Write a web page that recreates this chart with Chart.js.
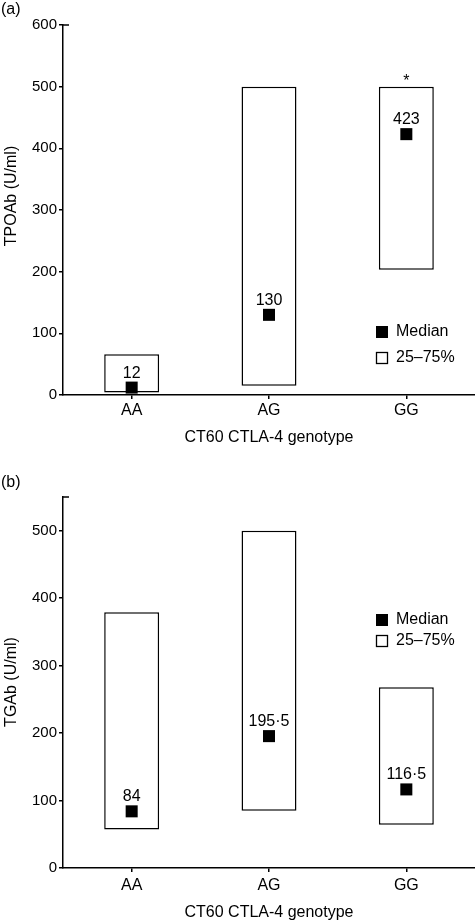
<!DOCTYPE html>
<html>
<head>
<meta charset="utf-8">
<script src="https://cdn.jsdelivr.net/npm/chart.js@4"></script>
<style>
  html, body { margin: 0; padding: 0; background: #fff; overflow: hidden; }
  canvas { display: block; }
</style>
</head>
<body>
<canvas id="tpoChart" width="475" height="450"></canvas>
<canvas id="tgaChart" width="475" height="472"></canvas>
<script>
// ---- Data ----
const genotypes = ["AA", "AG", "GG"];

// (a) TPOAb
const tpoLow    = [4, 15, 203];
const tpoHigh   = [66, 500, 500];
const tpoMedian = [12, 130, 423];
const tpoSignif = ["", "", "*"];
const tpoTicks  = [0, 100, 200, 300, 400, 500, 600];

// (b) TGAb
const tgaLow    = [57, 85, 64];
const tgaHigh   = [379, 500, 268];
const tgaMedian = [84, 195.5, 116.5];
const tgaSignif = ["", "", ""];
const tgaTicks  = [0, 100, 200, 300, 400, 500];

const FONT = "Liberation Sans";
const fmt = v => String(v).replace(".", "\u00b7");

// ---- Annotations: panel letter, y title, median labels, asterisk, legend, axis stub ----
const annotations = {
  id: "annotations",
  afterDraw(chart, args, opts) {
    const ctx = chart.ctx;
    const area = chart.chartArea;
    const y = chart.scales.y;
    ctx.save();
    ctx.fillStyle = "#000";
    ctx.strokeStyle = "#000";
    ctx.font = "16px '" + FONT + "'";

    // panel letter
    ctx.textAlign = "left";
    ctx.textBaseline = "middle";
    ctx.fillText(opts.letter, 1, opts.letterY);

    // y axis title
    ctx.save();
    ctx.translate(12, opts.yTitleY);
    ctx.rotate(-Math.PI / 2);
    ctx.textAlign = "center";
    ctx.fillText(opts.yTitle, 0, 0);
    ctx.restore();

    // median value labels
    const medMeta = chart.getDatasetMeta(0);
    ctx.textAlign = "center";
    ctx.textBaseline = "alphabetic";
    medMeta.data.forEach((pt, i) => {
      ctx.fillText(fmt(opts.medians[i]), pt.x, pt.y - 10);
    });

    // significance marks above boxes
    const boxMeta = chart.getDatasetMeta(1);
    boxMeta.data.forEach((bar, i) => {
      if (opts.signif[i]) ctx.fillText(opts.signif[i], bar.x, y.getPixelForValue(opts.highs[i]) - 1);
    });

    // short stub at top of y axis
    ctx.lineWidth = 1.5;
    ctx.beginPath();
    ctx.moveTo(area.left, area.top);
    ctx.lineTo(area.left + 6, area.top);
    ctx.stroke();

    // legend
    const lx = 376, s = 12;
    ctx.textAlign = "left";
    ctx.textBaseline = "middle";
    ctx.fillRect(lx, opts.legendY[0] - s / 2, s, s);
    ctx.fillText("Median", lx + 20, opts.legendY[0]);
    ctx.lineWidth = 1.3;
    ctx.strokeRect(lx + 0.5, opts.legendY[1] - s / 2 + 0.5, s - 1, s - 1);
    ctx.fillText("25\u201375%", lx + 20, opts.legendY[1]);
    ctx.restore();
  }
};

function buildPanel(canvasId, p) {
  new Chart(document.getElementById(canvasId), {
    data: {
      labels: genotypes,
      datasets: [
        {
          type: "line",
          label: "Median",
          data: p.medians,
          showLine: false,
          pointStyle: "rect",
          pointRadius: 8.5,
          pointBackgroundColor: "#000",
          pointBorderColor: "#000",
          pointBorderWidth: 0,
          clip: false,
          order: 0,
        },
        {
          type: "bar",
          label: "25\u201375%",
          data: p.lows.map((lo, i) => [lo, p.highs[i]]),
          backgroundColor: "#fff",
          borderColor: "#000",
          borderWidth: 1.5,
          borderSkipped: false,
          barPercentage: 0.4,
          categoryPercentage: 1,
          order: 1,
        }
      ]
    },
    options: {
      responsive: false,
      animation: false,
      layout: { autoPadding: false, padding: { top: p.padTop, right: 0, left: 0, bottom: 0 } },
      plugins: {
        legend: { display: false },
        tooltip: { enabled: false },
        annotations: {
          letter: p.letter, letterY: p.letterY, yTitle: p.yTitle, yTitleY: p.yTitleY,
          medians: p.medians, highs: p.highs, signif: p.signif, legendY: p.legendY
        }
      },
      scales: {
        x: {
          offset: true,
          grid: { offset: false, drawOnChartArea: false, color: "#000", lineWidth: 1.5, tickLength: 4 },
          border: { color: "#000", width: 1.5 },
          ticks: { color: "#000", padding: p.xTickPad, font: { family: FONT, size: 16 } },
          title: {
            display: true, text: "CT60 CTLA-4 genotype", color: "#000",
            font: { family: FONT, size: 16 }, padding: { top: 0, bottom: p.xTitlePad }
          },
          afterFit: s => { s.height = p.xHeight; }
        },
        y: {
          min: 0, max: p.max,
          afterBuildTicks: s => { s.ticks = p.ticks.map(v => ({ value: v })); },
          grid: { drawOnChartArea: false, color: "#000", lineWidth: 1.5, tickLength: 4 },
          border: { color: "#000", width: 1.5 },
          ticks: { color: "#000", padding: 2, font: { family: FONT, size: 15 } },
          afterFit: s => { s.width = 63; }
        }
      }
    },
    plugins: [annotations]
  });
}

// INIT
buildPanel("tpoChart", {
  letter: "(a)", letterY: 10, yTitle: "TPOAb (U/ml)", yTitleY: 196,
  lows: tpoLow, highs: tpoHigh, medians: tpoMedian, signif: tpoSignif,
  ticks: tpoTicks, max: 600,
  padTop: 25, xHeight: 55, xTickPad: 2, xTitlePad: 3,
  legendY: [332, 358]
});

buildPanel("tgaChart", {
  letter: "(b)", letterY: 33, yTitle: "TGAb (U/ml)", yTitleY: 232,
  lows: tgaLow, highs: tgaHigh, medians: tgaMedian, signif: tgaSignif,
  ticks: tgaTicks, max: 550,
  padTop: 47, xHeight: 54, xTickPad: 4, xTitlePad: 0,
  legendY: [170, 191]
});
</script>
</body>
</html>
